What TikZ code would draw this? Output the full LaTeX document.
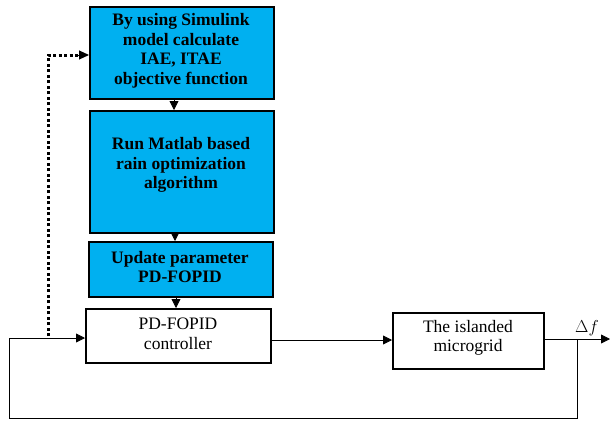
\documentclass[tikz,border=0pt]{standalone}
\usepackage{fontspec}
\setmainfont{Liberation Serif}
\usetikzlibrary{arrows.meta}
\definecolor{boxblue}{HTML}{00B0F0}
\begin{document}
\begin{tikzpicture}[x=1pt,y=-1pt,
  txt/.style={font=\fontsize{17.5}{19.5}\selectfont, align=center},
  bluebox/.style={draw=black, line width=1.6pt, fill=boxblue, anchor=north west, inner sep=0pt},
  whitebox/.style={draw=black, line width=1.6pt, fill=white, anchor=north west, inner sep=0pt},
  arr/.style={-{Triangle[length=9pt,width=9pt]}, line width=0.8pt},
  line/.style={line width=0.8pt}]
\useasboundingbox (0,0) rectangle (610,423);
\node[bluebox, minimum width=184pt, minimum height=92pt] (b1) at (89,6) {};
\node[txt, font=\fontsize{17.5}{19.5}\selectfont\bfseries] (b1t) at (181,51) {By using Simulink\\model calculate\\IAE, ITAE\\objective function};
\node[bluebox, minimum width=184pt, minimum height=122pt] (b2) at (89,110) {};
\node[txt, font=\fontsize{17.5}{19.5}\selectfont\bfseries] (b2t) at (181,165) {Run Matlab based\\rain optimization\\algorithm};
\node[bluebox, minimum width=184pt, minimum height=55pt] (b3) at (88,241) {};
\node[txt, font=\fontsize{17.5}{19.5}\selectfont\bfseries] (b3t) at (180,267) {Update parameter\\PD-FOPID};
\node[whitebox, minimum width=185pt, minimum height=54pt] (b4) at (85,308) {};
\node[txt] (b4t) at (178,334) {PD-FOPID\\controller};
\node[whitebox, minimum width=151pt, minimum height=56pt] (b5) at (392,312) {};
\node[txt] (b5t) at (468,338) {The islanded\\microgrid};
\coordinate (out) at (610,339);
\coordinate (tap) at (577,339);
\coordinate (c1) at (577,418);
\coordinate (c2) at (9,418);
\coordinate (c3) at (9,338);
\coordinate (d0) at (48,336);
\coordinate (d1) at (48,55);
\node[font=\fontsize{19}{20}\selectfont, anchor=south, inner sep=1pt] (df) at (587,337) {$\Delta f$};

\draw[arr] (b1.south -| 174,0) -- (174,110);
\draw[arr] (175,232) -- (175,241);
\draw[arr] (176,296) -- (176,308);
\draw[arr] (b4.east |- 0,340) -- (b5.west |- 0,340);
\draw[arr] (b5.east |- 0,339) -- (out);
\draw[line] (tap) -- (c1) -- (c2) -- (c3);
\draw[arr] (c3) -- (b4.west |- c3);
\draw[line width=3pt, dash pattern=on 3pt off 2.5pt] (d0) -- (d1) -- (78,55);
\draw[-{Triangle[length=10pt,width=9pt]}, line width=1pt] (77,55) -- (b1.west |- d1);
\end{tikzpicture}
\end{document}
